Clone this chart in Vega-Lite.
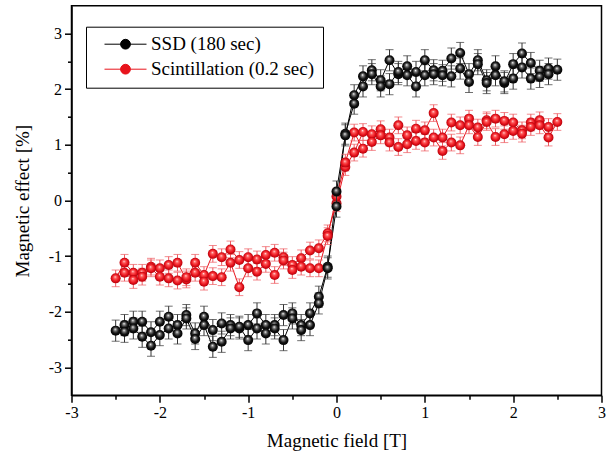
{
"$schema": "https://vega.github.io/schema/vega-lite/v6.json",
"width": 530, "height": 389.5,
"autosize": "none",
"padding": {"left": 71.5, "top": 5.7, "right": 9.5, "bottom": 61.8},
"background": "white",
"config": {"view": {"stroke": "black", "strokeWidth": 1.5}, "font": "Liberation Serif",
  "axis": {"labelFont": "Liberation Serif", "titleFont": "Liberation Serif"},
  "legend": {"labelFont": "Liberation Serif", "titleFont": "Liberation Serif"}},
"datasets": {"d": [
{"s":"SSD (180 sec)","i":0,"x":-2.5,"y":-2.34,"e":0.19},
{"s":"SSD (180 sec)","i":1,"x":-2.4,"y":-2.24,"e":0.19},
{"s":"SSD (180 sec)","i":2,"x":-2.3,"y":-2.18,"e":0.19},
{"s":"SSD (180 sec)","i":3,"x":-2.2,"y":-2.18,"e":0.19},
{"s":"SSD (180 sec)","i":4,"x":-2.1,"y":-2.37,"e":0.19},
{"s":"SSD (180 sec)","i":5,"x":-2.0,"y":-2.18,"e":0.19},
{"s":"SSD (180 sec)","i":6,"x":-1.9,"y":-2.09,"e":0.19},
{"s":"SSD (180 sec)","i":7,"x":-1.8,"y":-2.24,"e":0.19},
{"s":"SSD (180 sec)","i":8,"x":-1.7,"y":-2.06,"e":0.19},
{"s":"SSD (180 sec)","i":9,"x":-1.6,"y":-2.39,"e":0.19},
{"s":"SSD (180 sec)","i":10,"x":-1.5,"y":-2.09,"e":0.19},
{"s":"SSD (180 sec)","i":11,"x":-1.4,"y":-2.33,"e":0.19},
{"s":"SSD (180 sec)","i":12,"x":-1.3,"y":-2.21,"e":0.19},
{"s":"SSD (180 sec)","i":13,"x":-1.2,"y":-2.24,"e":0.19},
{"s":"SSD (180 sec)","i":14,"x":-1.1,"y":-2.30,"e":0.19},
{"s":"SSD (180 sec)","i":15,"x":-1.0,"y":-2.24,"e":0.19},
{"s":"SSD (180 sec)","i":16,"x":-0.9,"y":-2.03,"e":0.19},
{"s":"SSD (180 sec)","i":17,"x":-0.8,"y":-2.24,"e":0.19},
{"s":"SSD (180 sec)","i":18,"x":-0.7,"y":-2.24,"e":0.19},
{"s":"SSD (180 sec)","i":19,"x":-0.6,"y":-2.06,"e":0.19},
{"s":"SSD (180 sec)","i":20,"x":-0.5,"y":-2.03,"e":0.19},
{"s":"SSD (180 sec)","i":21,"x":-0.4,"y":-2.24,"e":0.19},
{"s":"SSD (180 sec)","i":22,"x":-0.3,"y":-2.03,"e":0.19},
{"s":"SSD (180 sec)","i":23,"x":-0.2,"y":-1.73,"e":0.19},
{"s":"SSD (180 sec)","i":24,"x":-0.1,"y":-1.19,"e":0.19},
{"s":"SSD (180 sec)","i":25,"x":0.0,"y":-0.11,"e":0.19},
{"s":"SSD (180 sec)","i":26,"x":0.1,"y":1.20,"e":0.19},
{"s":"SSD (180 sec)","i":27,"x":0.2,"y":1.74,"e":0.19},
{"s":"SSD (180 sec)","i":28,"x":0.3,"y":2.05,"e":0.19},
{"s":"SSD (180 sec)","i":29,"x":0.4,"y":2.34,"e":0.19},
{"s":"SSD (180 sec)","i":30,"x":0.5,"y":2.16,"e":0.19},
{"s":"SSD (180 sec)","i":31,"x":0.6,"y":2.52,"e":0.19},
{"s":"SSD (180 sec)","i":32,"x":0.7,"y":2.27,"e":0.19},
{"s":"SSD (180 sec)","i":33,"x":0.8,"y":2.41,"e":0.19},
{"s":"SSD (180 sec)","i":34,"x":0.9,"y":2.31,"e":0.19},
{"s":"SSD (180 sec)","i":35,"x":1.0,"y":2.52,"e":0.19},
{"s":"SSD (180 sec)","i":36,"x":1.1,"y":2.34,"e":0.19},
{"s":"SSD (180 sec)","i":37,"x":1.2,"y":2.33,"e":0.19},
{"s":"SSD (180 sec)","i":38,"x":1.3,"y":2.55,"e":0.19},
{"s":"SSD (180 sec)","i":39,"x":1.4,"y":2.65,"e":0.19},
{"s":"SSD (180 sec)","i":40,"x":1.5,"y":2.27,"e":0.19},
{"s":"SSD (180 sec)","i":41,"x":1.6,"y":2.52,"e":0.19},
{"s":"SSD (180 sec)","i":42,"x":1.7,"y":2.16,"e":0.19},
{"s":"SSD (180 sec)","i":43,"x":1.8,"y":2.41,"e":0.19},
{"s":"SSD (180 sec)","i":44,"x":1.9,"y":2.11,"e":0.19},
{"s":"SSD (180 sec)","i":45,"x":2.0,"y":2.45,"e":0.19},
{"s":"SSD (180 sec)","i":46,"x":2.1,"y":2.64,"e":0.19},
{"s":"SSD (180 sec)","i":47,"x":2.2,"y":2.47,"e":0.19},
{"s":"SSD (180 sec)","i":48,"x":2.3,"y":2.33,"e":0.19},
{"s":"SSD (180 sec)","i":49,"x":2.4,"y":2.37,"e":0.19},
{"s":"SSD (180 sec)","i":50,"x":2.5,"y":2.35,"e":0.19},
{"s":"SSD (180 sec)","i":51,"x":2.4,"y":2.27,"e":0.19},
{"s":"SSD (180 sec)","i":52,"x":2.3,"y":2.22,"e":0.19},
{"s":"SSD (180 sec)","i":53,"x":2.2,"y":2.19,"e":0.19},
{"s":"SSD (180 sec)","i":54,"x":2.1,"y":2.39,"e":0.19},
{"s":"SSD (180 sec)","i":55,"x":2.0,"y":2.19,"e":0.19},
{"s":"SSD (180 sec)","i":56,"x":1.9,"y":2.14,"e":0.19},
{"s":"SSD (180 sec)","i":57,"x":1.8,"y":2.25,"e":0.19},
{"s":"SSD (180 sec)","i":58,"x":1.7,"y":2.11,"e":0.19},
{"s":"SSD (180 sec)","i":59,"x":1.6,"y":2.45,"e":0.19},
{"s":"SSD (180 sec)","i":60,"x":1.5,"y":2.13,"e":0.19},
{"s":"SSD (180 sec)","i":61,"x":1.4,"y":2.37,"e":0.19},
{"s":"SSD (180 sec)","i":62,"x":1.3,"y":2.23,"e":0.19},
{"s":"SSD (180 sec)","i":63,"x":1.2,"y":2.25,"e":0.19},
{"s":"SSD (180 sec)","i":64,"x":1.1,"y":2.27,"e":0.19},
{"s":"SSD (180 sec)","i":65,"x":1.0,"y":2.25,"e":0.19},
{"s":"SSD (180 sec)","i":66,"x":0.9,"y":2.05,"e":0.19},
{"s":"SSD (180 sec)","i":67,"x":0.8,"y":2.25,"e":0.19},
{"s":"SSD (180 sec)","i":68,"x":0.7,"y":2.31,"e":0.19},
{"s":"SSD (180 sec)","i":69,"x":0.6,"y":2.09,"e":0.19},
{"s":"SSD (180 sec)","i":70,"x":0.5,"y":2.05,"e":0.19},
{"s":"SSD (180 sec)","i":71,"x":0.4,"y":2.27,"e":0.19},
{"s":"SSD (180 sec)","i":72,"x":0.3,"y":2.23,"e":0.19},
{"s":"SSD (180 sec)","i":73,"x":0.2,"y":1.89,"e":0.19},
{"s":"SSD (180 sec)","i":74,"x":0.1,"y":1.17,"e":0.19},
{"s":"SSD (180 sec)","i":75,"x":0.0,"y":0.16,"e":0.19},
{"s":"SSD (180 sec)","i":76,"x":-0.1,"y":-1.22,"e":0.19},
{"s":"SSD (180 sec)","i":77,"x":-0.2,"y":-1.85,"e":0.19},
{"s":"SSD (180 sec)","i":78,"x":-0.3,"y":-2.24,"e":0.19},
{"s":"SSD (180 sec)","i":79,"x":-0.4,"y":-2.33,"e":0.19},
{"s":"SSD (180 sec)","i":80,"x":-0.5,"y":-2.12,"e":0.19},
{"s":"SSD (180 sec)","i":81,"x":-0.6,"y":-2.51,"e":0.19},
{"s":"SSD (180 sec)","i":82,"x":-0.7,"y":-2.30,"e":0.19},
{"s":"SSD (180 sec)","i":83,"x":-0.8,"y":-2.39,"e":0.19},
{"s":"SSD (180 sec)","i":84,"x":-0.9,"y":-2.30,"e":0.19},
{"s":"SSD (180 sec)","i":85,"x":-1.0,"y":-2.51,"e":0.19},
{"s":"SSD (180 sec)","i":86,"x":-1.1,"y":-2.27,"e":0.19},
{"s":"SSD (180 sec)","i":87,"x":-1.2,"y":-2.30,"e":0.19},
{"s":"SSD (180 sec)","i":88,"x":-1.3,"y":-2.54,"e":0.19},
{"s":"SSD (180 sec)","i":89,"x":-1.4,"y":-2.63,"e":0.19},
{"s":"SSD (180 sec)","i":90,"x":-1.5,"y":-2.24,"e":0.19},
{"s":"SSD (180 sec)","i":91,"x":-1.6,"y":-2.49,"e":0.19},
{"s":"SSD (180 sec)","i":92,"x":-1.7,"y":-2.12,"e":0.19},
{"s":"SSD (180 sec)","i":93,"x":-1.8,"y":-2.39,"e":0.19},
{"s":"SSD (180 sec)","i":94,"x":-1.9,"y":-2.30,"e":0.19},
{"s":"SSD (180 sec)","i":95,"x":-2.0,"y":-2.42,"e":0.19},
{"s":"SSD (180 sec)","i":96,"x":-2.1,"y":-2.61,"e":0.19},
{"s":"SSD (180 sec)","i":97,"x":-2.2,"y":-2.45,"e":0.19},
{"s":"SSD (180 sec)","i":98,"x":-2.3,"y":-2.30,"e":0.19},
{"s":"SSD (180 sec)","i":99,"x":-2.4,"y":-2.36,"e":0.19},
{"s":"Scintillation (0.2 sec)","i":0,"x":-2.5,"y":-1.40,"e":0.15},
{"s":"Scintillation (0.2 sec)","i":1,"x":-2.4,"y":-1.12,"e":0.15},
{"s":"Scintillation (0.2 sec)","i":2,"x":-2.3,"y":-1.30,"e":0.15},
{"s":"Scintillation (0.2 sec)","i":3,"x":-2.2,"y":-1.30,"e":0.15},
{"s":"Scintillation (0.2 sec)","i":4,"x":-2.1,"y":-1.19,"e":0.15},
{"s":"Scintillation (0.2 sec)","i":5,"x":-2.0,"y":-1.22,"e":0.15},
{"s":"Scintillation (0.2 sec)","i":6,"x":-1.9,"y":-1.16,"e":0.15},
{"s":"Scintillation (0.2 sec)","i":7,"x":-1.8,"y":-1.12,"e":0.15},
{"s":"Scintillation (0.2 sec)","i":8,"x":-1.7,"y":-1.42,"e":0.15},
{"s":"Scintillation (0.2 sec)","i":9,"x":-1.6,"y":-1.12,"e":0.15},
{"s":"Scintillation (0.2 sec)","i":10,"x":-1.5,"y":-1.34,"e":0.15},
{"s":"Scintillation (0.2 sec)","i":11,"x":-1.4,"y":-0.96,"e":0.15},
{"s":"Scintillation (0.2 sec)","i":12,"x":-1.3,"y":-1.02,"e":0.15},
{"s":"Scintillation (0.2 sec)","i":13,"x":-1.2,"y":-0.88,"e":0.15},
{"s":"Scintillation (0.2 sec)","i":14,"x":-1.1,"y":-1.07,"e":0.15},
{"s":"Scintillation (0.2 sec)","i":15,"x":-1.0,"y":-1.02,"e":0.15},
{"s":"Scintillation (0.2 sec)","i":16,"x":-0.9,"y":-1.06,"e":0.15},
{"s":"Scintillation (0.2 sec)","i":17,"x":-0.8,"y":-0.98,"e":0.15},
{"s":"Scintillation (0.2 sec)","i":18,"x":-0.7,"y":-0.94,"e":0.15},
{"s":"Scintillation (0.2 sec)","i":19,"x":-0.6,"y":-1.02,"e":0.15},
{"s":"Scintillation (0.2 sec)","i":20,"x":-0.5,"y":-1.16,"e":0.15},
{"s":"Scintillation (0.2 sec)","i":21,"x":-0.4,"y":-1.04,"e":0.15},
{"s":"Scintillation (0.2 sec)","i":22,"x":-0.3,"y":-0.90,"e":0.15},
{"s":"Scintillation (0.2 sec)","i":23,"x":-0.2,"y":-0.86,"e":0.15},
{"s":"Scintillation (0.2 sec)","i":24,"x":-0.1,"y":-0.59,"e":0.15},
{"s":"Scintillation (0.2 sec)","i":25,"x":0.0,"y":-0.05,"e":0.15},
{"s":"Scintillation (0.2 sec)","i":26,"x":0.1,"y":0.60,"e":0.15},
{"s":"Scintillation (0.2 sec)","i":27,"x":0.2,"y":0.86,"e":0.15},
{"s":"Scintillation (0.2 sec)","i":28,"x":0.3,"y":1.23,"e":0.15},
{"s":"Scintillation (0.2 sec)","i":29,"x":0.4,"y":1.19,"e":0.15},
{"s":"Scintillation (0.2 sec)","i":30,"x":0.5,"y":1.28,"e":0.15},
{"s":"Scintillation (0.2 sec)","i":31,"x":0.6,"y":1.13,"e":0.15},
{"s":"Scintillation (0.2 sec)","i":32,"x":0.7,"y":1.35,"e":0.15},
{"s":"Scintillation (0.2 sec)","i":33,"x":0.8,"y":1.17,"e":0.15},
{"s":"Scintillation (0.2 sec)","i":34,"x":0.9,"y":1.29,"e":0.15},
{"s":"Scintillation (0.2 sec)","i":35,"x":1.0,"y":1.26,"e":0.15},
{"s":"Scintillation (0.2 sec)","i":36,"x":1.1,"y":1.57,"e":0.15},
{"s":"Scintillation (0.2 sec)","i":37,"x":1.2,"y":1.13,"e":0.15},
{"s":"Scintillation (0.2 sec)","i":38,"x":1.3,"y":1.40,"e":0.15},
{"s":"Scintillation (0.2 sec)","i":39,"x":1.4,"y":1.35,"e":0.15},
{"s":"Scintillation (0.2 sec)","i":40,"x":1.5,"y":1.47,"e":0.15},
{"s":"Scintillation (0.2 sec)","i":41,"x":1.6,"y":1.31,"e":0.15},
{"s":"Scintillation (0.2 sec)","i":42,"x":1.7,"y":1.44,"e":0.15},
{"s":"Scintillation (0.2 sec)","i":43,"x":1.8,"y":1.47,"e":0.15},
{"s":"Scintillation (0.2 sec)","i":44,"x":1.9,"y":1.43,"e":0.15},
{"s":"Scintillation (0.2 sec)","i":45,"x":2.0,"y":1.40,"e":0.15},
{"s":"Scintillation (0.2 sec)","i":46,"x":2.1,"y":1.26,"e":0.15},
{"s":"Scintillation (0.2 sec)","i":47,"x":2.2,"y":1.40,"e":0.15},
{"s":"Scintillation (0.2 sec)","i":48,"x":2.3,"y":1.44,"e":0.15},
{"s":"Scintillation (0.2 sec)","i":49,"x":2.4,"y":1.32,"e":0.15},
{"s":"Scintillation (0.2 sec)","i":50,"x":2.5,"y":1.41,"e":0.15},
{"s":"Scintillation (0.2 sec)","i":51,"x":2.4,"y":1.13,"e":0.15},
{"s":"Scintillation (0.2 sec)","i":52,"x":2.3,"y":1.35,"e":0.15},
{"s":"Scintillation (0.2 sec)","i":53,"x":2.2,"y":1.32,"e":0.15},
{"s":"Scintillation (0.2 sec)","i":54,"x":2.1,"y":1.20,"e":0.15},
{"s":"Scintillation (0.2 sec)","i":55,"x":2.0,"y":1.25,"e":0.15},
{"s":"Scintillation (0.2 sec)","i":56,"x":1.9,"y":1.19,"e":0.15},
{"s":"Scintillation (0.2 sec)","i":57,"x":1.8,"y":1.14,"e":0.15},
{"s":"Scintillation (0.2 sec)","i":58,"x":1.7,"y":1.41,"e":0.15},
{"s":"Scintillation (0.2 sec)","i":59,"x":1.6,"y":1.14,"e":0.15},
{"s":"Scintillation (0.2 sec)","i":60,"x":1.5,"y":1.35,"e":0.15},
{"s":"Scintillation (0.2 sec)","i":61,"x":1.4,"y":0.99,"e":0.15},
{"s":"Scintillation (0.2 sec)","i":62,"x":1.3,"y":1.04,"e":0.15},
{"s":"Scintillation (0.2 sec)","i":63,"x":1.2,"y":0.89,"e":0.15},
{"s":"Scintillation (0.2 sec)","i":64,"x":1.1,"y":1.13,"e":0.15},
{"s":"Scintillation (0.2 sec)","i":65,"x":1.0,"y":1.04,"e":0.15},
{"s":"Scintillation (0.2 sec)","i":66,"x":0.9,"y":1.07,"e":0.15},
{"s":"Scintillation (0.2 sec)","i":67,"x":0.8,"y":1.01,"e":0.15},
{"s":"Scintillation (0.2 sec)","i":68,"x":0.7,"y":0.96,"e":0.15},
{"s":"Scintillation (0.2 sec)","i":69,"x":0.6,"y":1.04,"e":0.15},
{"s":"Scintillation (0.2 sec)","i":70,"x":0.5,"y":1.17,"e":0.15},
{"s":"Scintillation (0.2 sec)","i":71,"x":0.4,"y":1.05,"e":0.15},
{"s":"Scintillation (0.2 sec)","i":72,"x":0.3,"y":0.93,"e":0.15},
{"s":"Scintillation (0.2 sec)","i":73,"x":0.2,"y":1.22,"e":0.15},
{"s":"Scintillation (0.2 sec)","i":74,"x":0.1,"y":0.68,"e":0.15},
{"s":"Scintillation (0.2 sec)","i":75,"x":0.0,"y":0.07,"e":0.15},
{"s":"Scintillation (0.2 sec)","i":76,"x":-0.1,"y":-0.64,"e":0.15},
{"s":"Scintillation (0.2 sec)","i":77,"x":-0.2,"y":-1.22,"e":0.15},
{"s":"Scintillation (0.2 sec)","i":78,"x":-0.3,"y":-1.22,"e":0.15},
{"s":"Scintillation (0.2 sec)","i":79,"x":-0.4,"y":-1.19,"e":0.15},
{"s":"Scintillation (0.2 sec)","i":80,"x":-0.5,"y":-1.25,"e":0.15},
{"s":"Scintillation (0.2 sec)","i":81,"x":-0.6,"y":-1.08,"e":0.15},
{"s":"Scintillation (0.2 sec)","i":82,"x":-0.7,"y":-1.34,"e":0.15},
{"s":"Scintillation (0.2 sec)","i":83,"x":-0.8,"y":-1.14,"e":0.15},
{"s":"Scintillation (0.2 sec)","i":84,"x":-0.9,"y":-1.28,"e":0.15},
{"s":"Scintillation (0.2 sec)","i":85,"x":-1.0,"y":-1.22,"e":0.15},
{"s":"Scintillation (0.2 sec)","i":86,"x":-1.1,"y":-1.56,"e":0.15},
{"s":"Scintillation (0.2 sec)","i":87,"x":-1.2,"y":-1.12,"e":0.15},
{"s":"Scintillation (0.2 sec)","i":88,"x":-1.3,"y":-1.38,"e":0.15},
{"s":"Scintillation (0.2 sec)","i":89,"x":-1.4,"y":-1.36,"e":0.15},
{"s":"Scintillation (0.2 sec)","i":90,"x":-1.5,"y":-1.46,"e":0.15},
{"s":"Scintillation (0.2 sec)","i":91,"x":-1.6,"y":-1.30,"e":0.15},
{"s":"Scintillation (0.2 sec)","i":92,"x":-1.7,"y":-1.38,"e":0.15},
{"s":"Scintillation (0.2 sec)","i":93,"x":-1.8,"y":-1.44,"e":0.15},
{"s":"Scintillation (0.2 sec)","i":94,"x":-1.9,"y":-1.40,"e":0.15},
{"s":"Scintillation (0.2 sec)","i":95,"x":-2.0,"y":-1.37,"e":0.15},
{"s":"Scintillation (0.2 sec)","i":96,"x":-2.1,"y":-1.22,"e":0.15},
{"s":"Scintillation (0.2 sec)","i":97,"x":-2.2,"y":-1.37,"e":0.15},
{"s":"Scintillation (0.2 sec)","i":98,"x":-2.3,"y":-1.43,"e":0.15},
{"s":"Scintillation (0.2 sec)","i":99,"x":-2.4,"y":-1.30,"e":0.15}
]},
"data": {"name": "d"},
"encoding": {
  "x": {"field": "x", "type": "quantitative", "scale": {"domain": [-3, 3], "nice": false, "zero": false},
    "axis": {"title": "Magnetic field [T]", "grid": false,
      "values": [-3,-2.5,-2,-1.5,-1,-0.5,0,0.5,1,1.5,2,2.5,3],
      "labelExpr": "datum.value % 1 === 0 ? '' + datum.value : ''",
      "tickSize": {"condition": {"test": "datum.value % 1 === 0", "value": 7}, "value": 4},
      "domainColor": "black", "domainWidth": 1.5, "tickColor": "black", "tickWidth": 1.5,
      "labelFont": "Liberation Serif", "labelFontSize": 16, "labelColor": "black", "labelPadding": 2, "labelFlush": false,
      "titleFont": "Liberation Serif", "titleFontSize": 19, "titleFontWeight": "normal", "titleColor": "black",
      "titleY": 45, "titleBaseline": "middle"}},
  "y": {"field": "y", "type": "quantitative", "scale": {"domain": [-3.5, 3.5], "nice": false, "zero": false},
    "axis": {"title": "Magnetic effect [%]", "grid": false,
      "values": [-3,-2.5,-2,-1.5,-1,-0.5,0,0.5,1,1.5,2,2.5,3],
      "labelExpr": "datum.value % 1 === 0 ? '' + datum.value : ''",
      "tickSize": {"condition": {"test": "datum.value % 1 === 0", "value": 7}, "value": 4},
      "domainColor": "black", "domainWidth": 1.5, "tickColor": "black", "tickWidth": 1.5,
      "labelFont": "Liberation Serif", "labelFontSize": 16, "labelColor": "black", "labelPadding": 3,
      "titleFont": "Liberation Serif", "titleFontSize": 19, "titleFontWeight": "normal", "titleColor": "black",
      "titleX": -49, "titleY": 195, "titleBaseline": "middle", "titleAlign": "center"}}
},
"layer": [
  {"mark": {"type": "line", "strokeWidth": 1},
   "encoding": {"order": {"field": "i", "type": "quantitative"},
     "color": {"field": "s", "type": "nominal",
       "scale": {"domain": ["SSD (180 sec)", "Scintillation (0.2 sec)"], "range": ["#000000", "#e8141c"]},
       "legend": {"title": null, "orient": "none", "legendX": 14.5, "legendY": 21,
         "strokeColor": "black", "fillColor": "white", "padding": 8, "cornerRadius": 0,
         "symbolType": "M-3,0H3M0.7,0A0.7,0.7,0,1,1,-0.7,0A0.7,0.7,0,1,1,0.7,0Z",
         "symbolSize": 196, "symbolStrokeWidth": 1, "symbolOffset": 22, "labelOffset": 16,
         "labelFont": "Liberation Serif", "labelFontSize": 19, "labelColor": "black", "labelLimit": 400, "rowPadding": 5,
         "encode": {"symbols": {"update": {"fill": {"scale": "color", "field": "value"}, "stroke": {"scale": "color", "field": "value"}, "opacity": {"value": 1}}},
                    "labels": {"update": {"font": {"value": "Liberation Serif"}}}}}}}},
  {"transform": [{"filter": "datum.s === 'Scintillation (0.2 sec)'"}],
   "mark": {"type": "errorbar", "ticks": {"size": 8}, "color": "#ee5a60", "thickness": 1},
   "encoding": {"yError": {"field": "e"}}},
  {"transform": [{"filter": "datum.s === 'Scintillation (0.2 sec)'"}],
   "mark": {"type": "point", "filled": true, "size": 100, "opacity": 1, "strokeWidth": 0,
     "fill": {"gradient": "radial", "x1": 0.45, "y1": 0.35, "r1": 0, "x2": 0.5, "y2": 0.5, "r2": 0.55,
       "stops": [{"offset": 0, "color": "#ffe0e0"}, {"offset": 0.25, "color": "#ff5a5a"}, {"offset": 0.65, "color": "#e8101a"}, {"offset": 1, "color": "#a00008"}]}}},
  {"transform": [{"filter": "datum.s === 'SSD (180 sec)'"}],
   "mark": {"type": "errorbar", "ticks": {"size": 8}, "color": "#333333", "thickness": 1},
   "encoding": {"yError": {"field": "e"}}},
  {"transform": [{"filter": "datum.s === 'SSD (180 sec)'"}],
   "mark": {"type": "point", "filled": true, "size": 100, "opacity": 1, "strokeWidth": 0,
     "fill": {"gradient": "radial", "x1": 0.45, "y1": 0.35, "r1": 0, "x2": 0.5, "y2": 0.5, "r2": 0.55,
       "stops": [{"offset": 0, "color": "#ffffff"}, {"offset": 0.25, "color": "#777777"}, {"offset": 0.6, "color": "#111111"}, {"offset": 1, "color": "#000000"}]}}}
]
}
